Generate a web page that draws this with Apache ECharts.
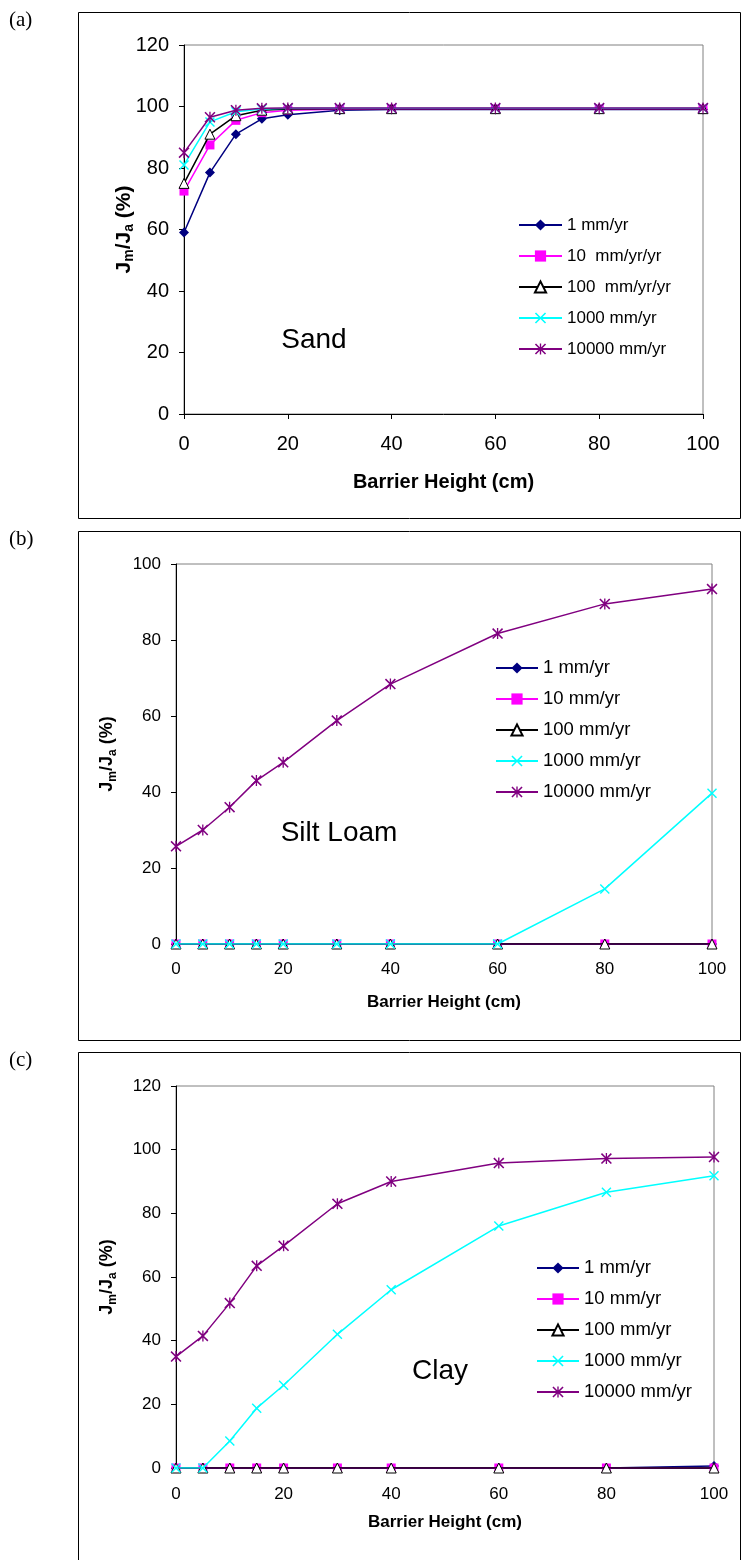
<!DOCTYPE html>
<html>
<head>
<meta charset="utf-8">
<script src="https://cdn.jsdelivr.net/npm/echarts@6/dist/echarts.min.js"></script>
<style>
html,body{margin:0;padding:0;background:#fff;}
#c{width:741px;height:1560px;}
</style>
</head>
<body>
<div id="c"></div>
<script>
// ---- data ----
var heights = [0, 5, 10, 15, 20, 30, 40, 60, 80, 100];
var yTicksA = [0, 20, 40, 60, 80, 100, 120];
var yTicksB = [0, 20, 40, 60, 80, 100];
var xTicks = [0, 20, 40, 60, 80, 100];

var namesA = ['1 mm/yr', '10  mm/yr/yr', '100  mm/yr/yr', '1000 mm/yr', '10000 mm/yr'];
var namesBC = ['1 mm/yr', '10 mm/yr', '100 mm/yr', '1000 mm/yr', '10000 mm/yr'];

var sand1 = [59, 78.5, 91, 96, 97.3, 98.8, 99, 99, 99, 99];
var sand10 = [72.5, 87.5, 95.5, 98, 98.8, 99.1, 99.2, 99.2, 99.2, 99.2];
var sand100 = [75, 91, 97, 98.8, 99.2, 99.3, 99.3, 99.3, 99.3, 99.3];
var sand1000 = [81, 95, 98.3, 99.2, 99.4, 99.4, 99.4, 99.4, 99.4, 99.4];
var sand10000 = [85, 96.5, 98.8, 99.4, 99.5, 99.5, 99.5, 99.5, 99.5, 99.5];

var silt1 = [0, 0, 0, 0, 0, 0, 0, 0, 0, 0];
var silt10 = [0, 0, 0, 0, 0, 0, 0, 0, 0, 0];
var silt100 = [0, 0, 0, 0, 0, 0, 0, 0, 0, 0];
var silt1000 = [0, 0, 0, 0, 0, 0, 0, 0, 14.5, 39.7];
var silt10000 = [25.7, 30, 36, 43, 47.8, 58.8, 68.4, 81.7, 89.5, 93.4];

var clay1 = [0, 0, 0, 0, 0, 0, 0, 0, 0, 0.6];
var clay10 = [0, 0, 0, 0, 0, 0, 0, 0, 0, 0];
var clay100 = [0, 0, 0, 0, 0, 0, 0, 0, 0, 0];
var clay1000 = [0, 0, 8.5, 18.8, 26, 42, 56, 76, 86.6, 91.8];
var clay10000 = [35, 41.5, 51.8, 63.5, 69.8, 83, 90, 95.8, 97.2, 97.7];

var panelLabels = ['(a)', '(b)', '(c)'];
var soilLabels = ['Sand', 'Silt Loam', 'Clay'];
var xTitle = 'Barrier Height (cm)';

// ---- styles ----
var F = 'Liberation Sans, Arial, sans-serif';
var colors = ['#000080', '#FF00FF', '#000000', '#00FFFF', '#800080'];
var X_PATH = 'path://M0,1L1,0L5,4L9,0L10,1L6,5L10,9L9,10L5,6L1,10L0,9L4,5Z';
var AST_PATH = 'path://M0,1L1,0L5,4L9,0L10,1L6,5L10,9L9,10L5,6L1,10L0,9L4,5Z M4.4,0L5.6,0L5.6,10L4.4,10Z';
var symbols = ['diamond', 'rect', 'triangle', X_PATH, AST_PATH];
var symSizes = [10, 9, 10, 10, 11];

function pairs(arr) { return heights.map(function (h, i) { return [h, arr[i]]; }); }

var panelData = [
  [sand1, sand10, sand100, sand1000, sand10000],
  [silt1, silt10, silt100, silt1000, silt10000],
  [clay1, clay10, clay100, clay1000, clay10000]
];
var panelNames = [namesA, namesBC, namesBC];

var grids = [
  {left: 184, right: 38, top: 45, height: 369},
  {left: 176, right: 29, top: 564, height: 380},
  {left: 176, right: 27, top: 1086, height: 382}
];
var fs = [
  {tick: 20, title: 20, leg: 17, yt: 21, sub: 14, lm: 20, xg: 58, yg: 48, lab: 16},
  {tick: 17, title: 17, leg: 18.5, yt: 18, sub: 12, lm: 17, xg: 50, yg: 57, lab: 15},
  {tick: 17, title: 17, leg: 18.5, yt: 18, sub: 12, lm: 18, xg: 46, yg: 57, lab: 15}
];
var yMaxes = [120, 100, 120];

var xAxes = [], yAxes = [], series = [], legends = [];
grids.forEach(function (g, k) {
  g.show = true;
  g.borderColor = '#808080';
  g.borderWidth = 1;
  g.backgroundColor = 'transparent';
  xAxes.push({
    type: 'value', gridIndex: k, min: 0, max: 100, interval: 20,
    name: xTitle, nameLocation: 'middle', nameGap: fs[k].xg, nameMoveOverlap: false,
    nameTextStyle: {fontFamily: F, fontSize: fs[k].title, fontWeight: 'bold', color: '#000'},
    axisLine: {show: true, onZero: false, lineStyle: {color: '#000', width: 1}},
    axisTick: {show: true, inside: false, length: 5, lineStyle: {color: '#000'}},
    axisLabel: {fontFamily: F, fontSize: fs[k].tick, color: '#000', margin: fs[k].lm},
    splitLine: {show: false}
  });
  yAxes.push({
    type: 'value', gridIndex: k, min: 0, max: yMaxes[k], interval: 20,
    name: '{b|J}{s|m}{b|/J}{s|a}{b| (%)}', nameLocation: 'middle', nameGap: fs[k].yg, nameRotate: 90,
    nameMoveOverlap: false,
    nameTextStyle: {
      fontFamily: F, color: '#000',
      rich: {
        b: {fontFamily: F, fontSize: fs[k].yt, fontWeight: 'bold', color: '#000', lineHeight: 24},
        s: {fontFamily: F, fontSize: fs[k].sub, fontWeight: 'bold', color: '#000', lineHeight: 11, verticalAlign: 'bottom'}
      }
    },
    axisLine: {show: true, onZero: false, lineStyle: {color: '#000', width: 1}},
    axisTick: {show: true, inside: false, length: 5, lineStyle: {color: '#000'}},
    axisLabel: {fontFamily: F, fontSize: fs[k].tick, color: '#000', margin: 15},
    splitLine: {show: false}
  });
  panelData[k].forEach(function (arr, j) {
    series.push({
      type: 'line', name: panelNames[k][j], xAxisIndex: k, yAxisIndex: k,
      data: pairs(arr),
      symbol: symbols[j], symbolSize: symSizes[j],
      showAllSymbol: true,
      lineStyle: {color: colors[j], width: 1.5},
      itemStyle: j === 2 ? {color: '#fff', borderColor: '#000', borderWidth: 1} : {color: colors[j], borderWidth: 0},
      animation: false, silent: true, z: 2 + j
    });
  });
});

var legPos = [
  {left: 518, top: 214, w: 43, gap: 9, lh: 22},
  {left: 495, top: 657, w: 42, gap: 9, lh: 22},
  {left: 536, top: 1257, w: 42, gap: 9, lh: 22}
];
legPos.forEach(function (p, k) {
  legends.push({
    orient: 'vertical', left: p.left, top: p.top, itemWidth: p.w, itemHeight: 14,
    itemGap: p.gap, data: panelNames[k].slice(), selectedMode: false,
    textStyle: {fontFamily: F, fontSize: fs[k].leg, color: '#000', lineHeight: p.lh},
    padding: 0
  });
});

var boxes = [
  {y: 12, h: 506},
  {y: 531, h: 509},
  {y: 1052, h: 520}
];
var graphics = [];
boxes.forEach(function (b, k) {
  graphics.push({
    type: 'rect', shape: {x: 78.5, y: b.y + 0.5, width: 662, height: b.h},
    style: {fill: 'none', stroke: '#000', lineWidth: 1}, silent: true, z: -1
  });
  graphics.push({
    type: 'text', x: 9, y: b.y - 2,
    style: {text: panelLabels[k], fontFamily: 'Liberation Serif, Times New Roman, serif', fontSize: 21, fill: '#000'}
  });
});
var soilPos = [[314, 340], [339, 833], [440, 1371]];
soilPos.forEach(function (p, k) {
  graphics.push({
    type: 'text', x: p[0], y: p[1],
    style: {text: soilLabels[k], fontFamily: F, fontSize: 28, fill: '#000', align: 'center', verticalAlign: 'middle'}
  });
});

var chart = echarts.init(document.getElementById('c'), null, {renderer: 'canvas'});
chart.setOption({
  animation: false,
  backgroundColor: '#fff',
  grid: grids,
  xAxis: xAxes,
  yAxis: yAxes,
  legend: legends,
  series: series,
  graphic: graphics
});
</script>
</body>
</html>
